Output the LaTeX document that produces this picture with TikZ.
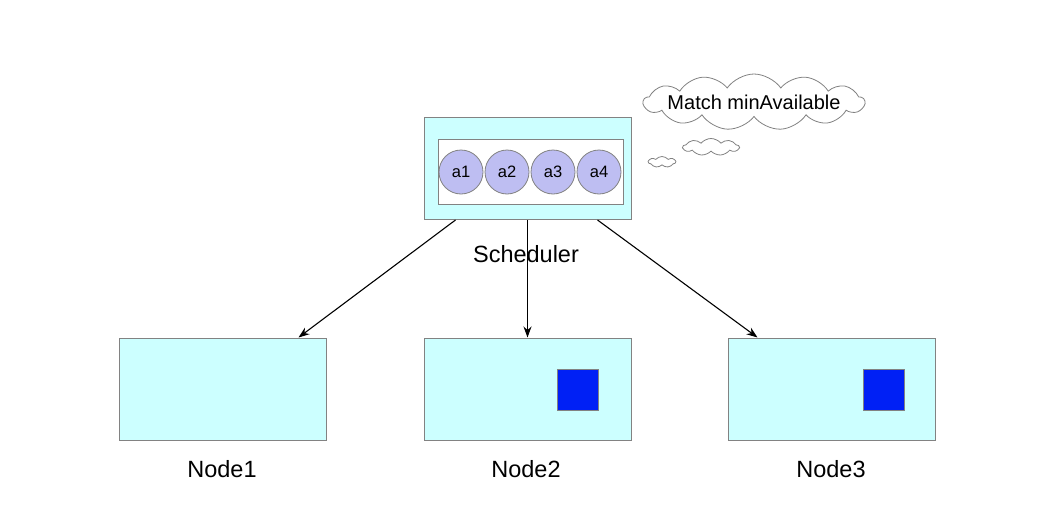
\documentclass[tikz,border=0pt]{standalone}
\usepackage{fontspec}
\setmainfont{Liberation Sans}
\usetikzlibrary{arrows.meta,shapes.symbols}
\definecolor{boxcyan}{RGB}{204,255,255}
\definecolor{edgegray}{RGB}{130,130,130}
\definecolor{podlilac}{RGB}{190,190,242}
\definecolor{podblue}{RGB}{0,32,245}
\begin{document}
\begin{tikzpicture}[x=1pt,y=-1pt,
  hostbox/.style={draw=edgegray,fill=boxcyan,line width=1pt,minimum width=207pt,minimum height=102pt,inner sep=0pt},
  podball/.style={circle,draw=edgegray,fill=podlilac,line width=0.8pt,minimum size=44pt,inner sep=0pt,font=\fontsize{16.5}{18}\selectfont},
  podsq/.style={draw=edgegray,fill=podblue,line width=0.8pt,minimum size=41pt,inner sep=0pt},
  puff/.style={cloud,draw=edgegray,fill=white,line width=0.8pt,cloud ignores aspect,cloud puff arc=100,inner sep=0pt},
  caption/.style={font=\fontsize{23.5}{27}\selectfont},
  link/.style={-{Stealth[length=11pt,width=8pt]},line width=1.1pt}]
\useasboundingbox (0,0) rectangle (1045,525);
\node[hostbox] (sched) at (527.5,168.5) {};
\node[draw=edgegray,fill=white,line width=1pt,minimum width=185pt,minimum height=65pt,inner sep=0pt] (queue) at (530.5,172) {};
\node[podball] (a1) at (461,172) {a1};
\node[podball] (a2) at (507,172) {a2};
\node[podball] (a3) at (553,172) {a3};
\node[podball] (a4) at (599,172) {a4};
\node[caption] (schedlabel) at (526,254) {Scheduler};
\node[hostbox] (node1) at (222.5,389) {};
\node[hostbox] (node2) at (527.5,389) {};
\node[hostbox] (node3) at (831.5,389) {};
\node[podsq] (pod2) at (577.5,389.5) {};
\node[podsq] (pod3) at (883.5,389.5) {};
\node[caption] (label1) at (222,469) {Node1};
\node[caption] (label2) at (526,469) {Node2};
\node[caption] (label3) at (831,469) {Node3};
\node[puff,cloud puffs=13,cloud puff arc=110,inner xsep=-7pt,minimum height=56pt,font=\fontsize{20}{22}\selectfont] (thought) at (754,102) {Match minAvailable};
\node[puff,cloud puffs=9,minimum width=56pt,minimum height=17pt] (puff1) at (711,147) {};
\node[puff,cloud puffs=7,minimum width=27pt,minimum height=11pt] (puff2) at (662,162) {};
\draw[link] ([xshift=32pt]sched.south west) -- ([xshift=180pt]node1.north west);
\draw[link] (sched.south) -- (node2.north);
\draw[link] ([xshift=-34pt]sched.south east) -- ([xshift=30pt]node3.north west);
\end{tikzpicture}
\end{document}
